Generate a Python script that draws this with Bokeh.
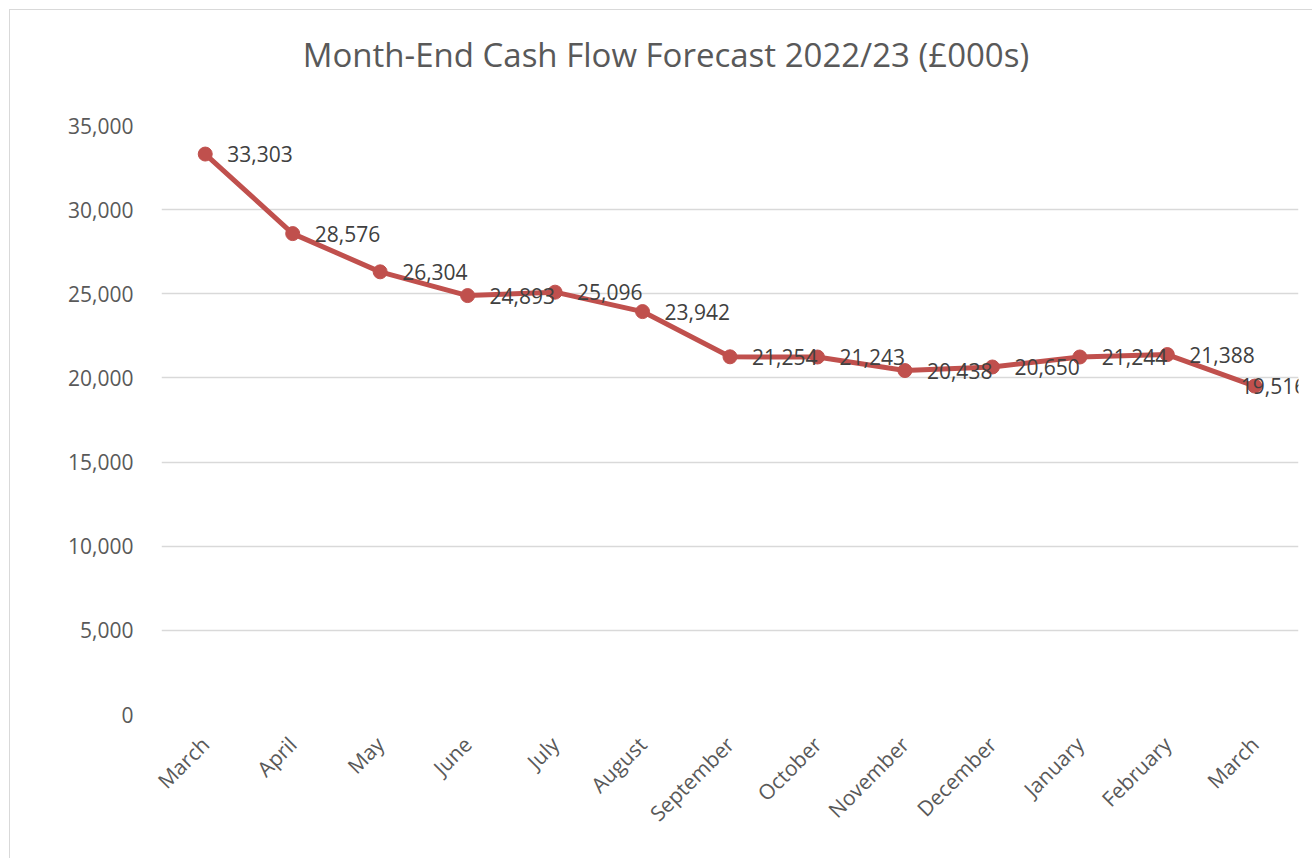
import math
from bokeh.plotting import figure
from bokeh.layouts import column, row
from bokeh.models import (ColumnDataSource, FixedTicker, NumeralTickFormatter, Range1d,
                          LabelSet, Div, Spacer)
from bokeh.core.properties import value
from bokeh.embed import file_html
from bokeh.resources import INLINE

months = ["March", "April", "May", "June", "July", "August", "September",
          "October", "November", "December", "January", "February", "March"]
cash = [33303, 28576, 26304, 24893, 25096, 23942, 21254,
        21243, 20438, 20650, 21244, 21388, 19516]
y_ticks = [0, 5000, 10000, 15000, 20000, 25000, 30000, 35000]
title_text = "Month-End Cash Flow Forecast 2022/23 (£000s)"

idx = list(range(len(months)))
labels = [f"{v:,}" for v in cash]
# label placement (style): to the right of each point, last one pulled inside
offsets = [22] * (len(cash) - 1) + [-14]
src = ColumnDataSource(dict(x=idx, y=cash, lab=labels, off=offsets))

FONT = "Open Sans"
PAD = 9                 # white space before the chart's border
W, H, TH = 1303, 849, 80

title = Div(text=title_text, width=W, height=TH, margin=0,
            styles={"font-family": FONT, "font-size": "33px", "color": "#595959",
                    "text-align": "center", "line-height": "40px",
                    "padding-top": "25px", "padding-left": "9px",
                    "box-sizing": "border-box", "background": "white"})

p = figure(width=W, height=H - TH, output_backend="svg", toolbar_location=None,
           x_range=Range1d(-0.5, len(months) - 0.5), y_range=Range1d(0, 35000),
           min_border_left=151, min_border_right=15, min_border_top=35,
           min_border_bottom=145, margin=0)
p.outline_line_color = None
p.background_fill_color = "white"

p.xgrid.grid_line_color = None
p.ygrid.grid_line_color = "#d9d9d9"
p.ygrid.grid_line_width = 1.5
p.yaxis.ticker = FixedTicker(ticks=y_ticks)
p.yaxis.formatter = NumeralTickFormatter(format="0,0")
p.xaxis.ticker = FixedTicker(ticks=idx)
p.xaxis.major_label_overrides = {i: m for i, m in enumerate(months)}
p.xaxis.major_label_orientation = math.pi / 4

for ax in (p.xaxis[0], p.yaxis[0]):
    ax.axis_line_color = None
    ax.major_tick_line_color = None
    ax.minor_tick_line_color = None
    ax.major_label_text_font = FONT
    ax.major_label_text_font_size = "21px"
    ax.major_label_text_color = "#595959"
p.yaxis.major_label_standoff = 22
p.xaxis.major_label_standoff = 20

p.line("x", "y", source=src, line_color="#C0504D", line_width=5)
p.scatter("x", "y", source=src, size=14, fill_color="#C0504D", line_color="#C0504D")
p.add_layout(LabelSet(x="x", y="y", text="lab", source=src, x_offset="off",
                      text_align="left", text_baseline="middle",
                      text_font=value(FONT), text_font_size="21px",
                      text_color="#404040"))

chart = column(title, p, spacing=0, margin=0,
               styles={"border-left": "1px solid #d9d9d9",
                       "border-top": "1px solid #d9d9d9"})
layout = column(Spacer(width=W + PAD, height=PAD, margin=0),
                row(Spacer(width=PAD, height=H, margin=0), chart, spacing=0, margin=0),
                spacing=0, margin=0)

open("out.html", "w").write(file_html(layout, INLINE))
